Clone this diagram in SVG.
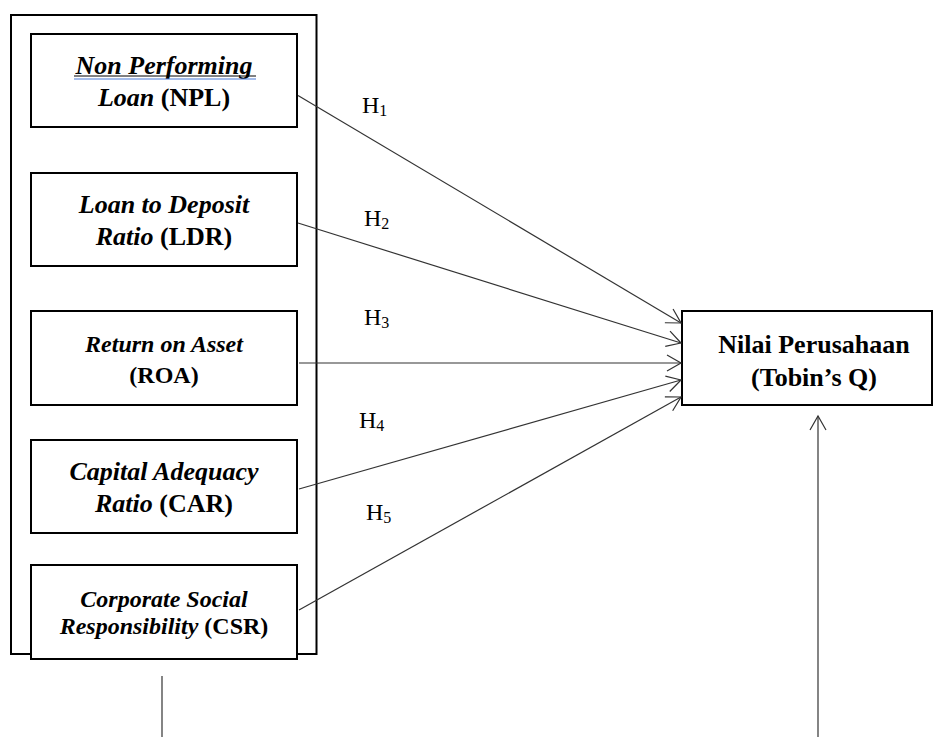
<svg xmlns="http://www.w3.org/2000/svg" width="934" height="737" viewBox="0 0 934 737">
<style>
.box{fill:#fff;stroke:#000;stroke-width:2}
.t{font-family:"Liberation Serif","Times New Roman",serif;font-weight:bold;fill:#000;text-anchor:middle}
.bi{font-style:italic}
.h{font-family:"Liberation Serif","Times New Roman",serif;font-size:24px;fill:#000}
.sub{font-size:16px}
.c{stroke:#333;stroke-width:1.2;fill:none}
</style>
<defs>
<marker id="arr" viewBox="-16 -10 18 20" refX="0" refY="0" markerWidth="18" markerHeight="20" markerUnits="userSpaceOnUse" orient="auto" overflow="visible">
<path d="M-14,-8 L0,0 L-14,8" fill="none" stroke="#333" stroke-width="1.2"/>
</marker>
</defs>
<rect id="group" x="11" y="15" width="305.5" height="639" fill="#fff" stroke="#000" stroke-width="2"/>
<g id="npl">
<rect class="box" x="31" y="34" width="266" height="93"/>
<text class="t bi" x="164" y="74" font-size="26">Non Performing</text>
<line x1="74" y1="76" x2="256" y2="76" stroke="#000" stroke-width="1"/>
<line x1="74" y1="79" x2="256" y2="79" stroke="#4a7bd8" stroke-width="1.2"/>
<text class="t" x="164" y="106" font-size="26"><tspan class="bi">Loan</tspan> (NPL)</text>
</g>
<g id="ldr">
<rect class="box" x="31" y="173" width="266" height="93"/>
<text class="t bi" x="164" y="213" font-size="26">Loan to Deposit</text>
<text class="t" x="164" y="245" font-size="26"><tspan class="bi">Ratio</tspan> (LDR)</text>
</g>
<g id="roa">
<rect class="box" x="31" y="311" width="266" height="94"/>
<text class="t bi" x="164" y="352" font-size="24">Return on Asset</text>
<text class="t" x="164" y="383" font-size="24">(ROA)</text>
</g>
<g id="car">
<rect class="box" x="31" y="440" width="266" height="93"/>
<text class="t bi" x="164" y="480" font-size="26">Capital Adequacy</text>
<text class="t" x="164" y="512" font-size="26"><tspan class="bi">Ratio</tspan> (CAR)</text>
</g>
<g id="csr">
<rect class="box" x="31" y="565" width="266" height="94"/>
<text class="t bi" x="164" y="607" font-size="24">Corporate Social</text>
<text class="t" x="164" y="634" font-size="24"><tspan class="bi">Responsibility</tspan> (CSR)</text>
</g>
<g id="tobinq">
<rect class="box" x="682" y="311" width="250" height="94"/>
<text class="t" x="814" y="353" font-size="26">Nilai Perusahaan</text>
<text class="t" x="814" y="386" font-size="26">(Tobin’s Q)</text>
</g>
<g id="connectors">
<line class="c" x1="298" y1="95.5" x2="681" y2="323" marker-end="url(#arr)"/>
<line class="c" x1="298" y1="223" x2="681" y2="343" marker-end="url(#arr)"/>
<line class="c" x1="299" y1="363" x2="681" y2="363" marker-end="url(#arr)"/>
<line class="c" x1="299" y1="489" x2="681" y2="380" marker-end="url(#arr)"/>
<line class="c" x1="299" y1="610" x2="681" y2="397" marker-end="url(#arr)"/>
<line class="c" x1="818" y1="737" x2="818" y2="416" marker-end="url(#arr)"/>
<line class="c" x1="162" y1="676" x2="162" y2="737"/>
</g>
<g id="labels">
<text class="h" x="362" y="113">H<tspan class="sub" dy="3">1</tspan></text>
<text class="h" x="364" y="226">H<tspan class="sub" dy="3">2</tspan></text>
<text class="h" x="364" y="325">H<tspan class="sub" dy="3">3</tspan></text>
<text class="h" x="359" y="428">H<tspan class="sub" dy="3">4</tspan></text>
<text class="h" x="366" y="520">H<tspan class="sub" dy="3">5</tspan></text>
</g>
</svg>
